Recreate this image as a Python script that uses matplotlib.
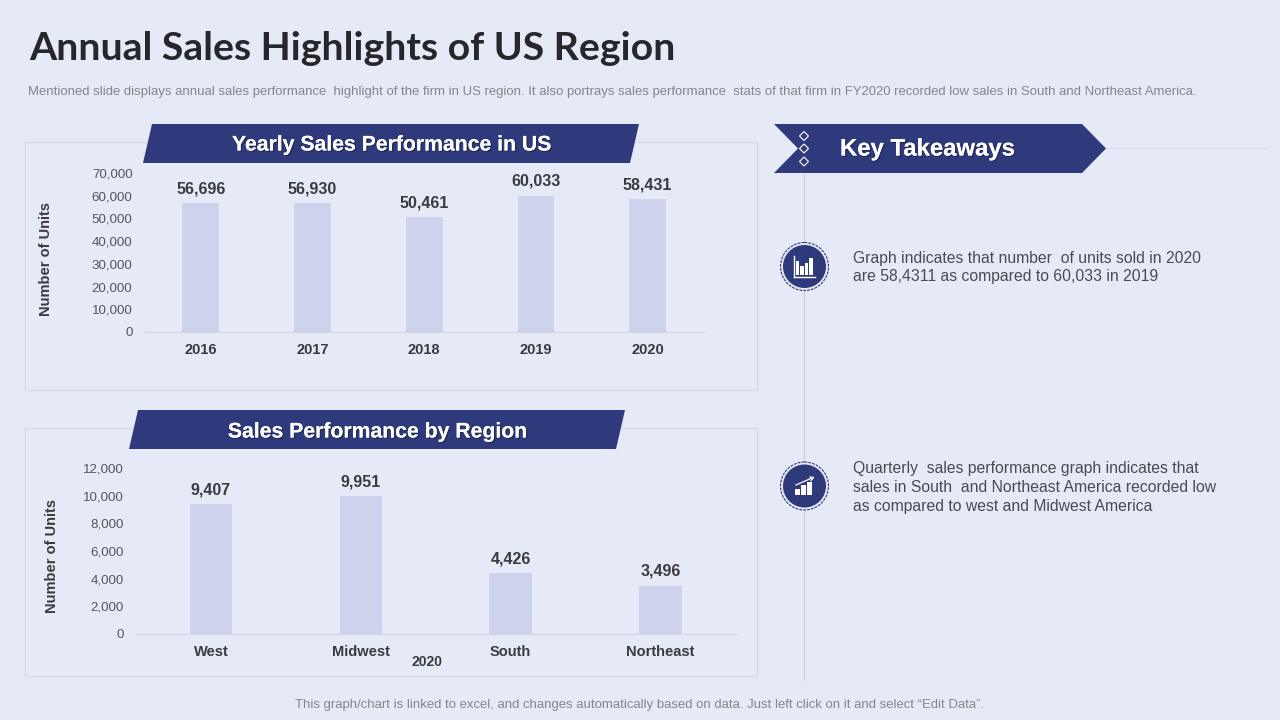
import matplotlib
matplotlib.use("Agg")
import matplotlib.pyplot as plt
from matplotlib.patches import Polygon, Rectangle, Circle
import matplotlib.patheffects as pe
from matplotlib.ticker import FuncFormatter

plt.rcParams['font.family'] = ['Liberation Sans', 'DejaVu Sans']

years = ['2016', '2017', '2018', '2019', '2020']
yearly_units = [56696, 56930, 50461, 60033, 58431]
yearly_ticks = [0, 10000, 20000, 30000, 40000, 50000, 60000, 70000]

regions = ['West', 'Midwest', 'South', 'Northeast']
region_units = [9407, 9951, 4426, 3496]
region_ticks = [0, 2000, 4000, 6000, 8000, 10000, 12000]

BG = '#E6EAF6'
BAR = '#CDD3EC'
NAVY = '#2E3A7C'
FRAME = '#D8DBE6'
DARK = '#3A3A3F'
GREY = '#85858C'

W, H = 1280, 720
fig = plt.figure(figsize=(W / 100, H / 100), dpi=100, facecolor=BG)

bg = fig.add_axes([0, 0, 1, 1], zorder=0)
bg.set_xlim(0, W)
bg.set_ylim(H, 0)
bg.axis('off')

fg = fig.add_axes([0, 0, 1, 1], zorder=5)
fg.set_xlim(0, W)
fg.set_ylim(H, 0)
fg.axis('off')
fg.patch.set_alpha(0)


def px(size):
    return size * 0.72


shadow = [pe.withSimplePatchShadow(offset=(1, -1), shadow_rgbFace='#1A1A30', alpha=0.45),
          pe.Normal()]

fg.text(29, 49, 'Annual Sales Highlights of US Region', fontsize=px(39.3), fontweight='bold',
        family=['Lato', 'DejaVu Sans'], color='#26262B', va='center', ha='left')
fg.text(28, 92.5,
        'Mentioned slide displays annual sales performance  highlight of the firm in US region. '
        'It also portrays sales performance  stats of that firm in FY2020 recorded low sales in '
        'South and Northeast America.',
        fontsize=px(13.16), color=GREY, va='center', ha='left')
fg.text(639.5, 705,
        'This graph/chart is linked to excel, and changes automatically based on data. '
        'Just left click on it and select \u201cEdit Data\u201d.',
        fontsize=px(13.18), color=GREY, va='center', ha='center')

for x, y, w, h in [(25, 142, 732, 248), (25, 428, 732, 248)]:
    bg.add_patch(Rectangle((x, y), w, h, fill=False, ec=FRAME, lw=1))

fg.add_patch(Polygon([(152, 124), (639, 124), (630, 163), (143, 163)], fc=NAVY, ec='none'))
fg.add_patch(Polygon([(138, 410), (625, 410), (616, 449), (129, 449)], fc=NAVY, ec='none'))
fg.text(391, 145, 'Yearly Sales Performance in US', fontsize=px(21.2), fontweight='bold',
        color='white', ha='center', va='center', path_effects=shadow)
fg.text(377, 432, 'Sales Performance by Region', fontsize=px(21.2), fontweight='bold',
        color='white', ha='center', va='center', path_effects=shadow)


def make_chart(left, right, top, bottom, ymax, labels, values, ticks, width, ylabel_x, ylabel_y,
               tick_pad, label_pad):
    ax = fig.add_axes([left / W, 1 - bottom / H, (right - left) / W, (bottom - top) / H], zorder=2)
    ax.patch.set_alpha(0)
    pos = list(range(len(labels)))
    ax.bar(pos, values, width=width, color=BAR)
    ax.set_xlim(-0.5, len(labels) - 0.5)
    ax.set_ylim(0, ymax)
    ax.set_xticks(pos, labels)
    ax.set_yticks(ticks)
    ax.yaxis.set_major_formatter(FuncFormatter(lambda v, _: f'{int(v):,}'))
    ax.tick_params(axis='y', length=0, pad=tick_pad, labelsize=px(13.4), labelcolor='#55555C')
    ax.tick_params(axis='x', length=0, pad=label_pad, labelsize=px(14.6))
    for t in ax.get_xticklabels():
        t.set_fontweight('bold')
        t.set_color(DARK)
    for s in ['top', 'left', 'right']:
        ax.spines[s].set_visible(False)
    ax.spines['bottom'].set_color('#D3D7E6')
    ax.spines['bottom'].set_linewidth(1)
    for p, v in zip(pos, values):
        ax.annotate(f'{v:,}', (p, v), xytext=(0, 4.8), textcoords='offset points', ha='center',
                    va='bottom', fontsize=px(16), fontweight='bold', color=DARK)
    fg.text(ylabel_x, ylabel_y, 'Number of Units', rotation=90, fontsize=px(14.6), fontweight='bold',
            color=DARK, ha='center', va='center')
    return ax


make_chart(145, 703.5, 173, 332, 70000, years, yearly_units, yearly_ticks, 0.33, 46.5, 259, 9, 8)
make_chart(136, 735.5, 468, 634, 12000, regions, region_units, region_ticks, 0.283, 52.5, 556, 9, 8)
fg.text(427, 662, '2020', fontsize=px(14), fontweight='bold', color=DARK, ha='center', va='center')

bg.plot([1100, 1267], [148, 148], color='#D8DBE8', lw=1)
bg.plot([804, 804], [170, 680], color='#CFD3E2', lw=1)
fg.add_patch(Polygon([(774, 124), (1082, 124), (1106, 148.5), (1082, 173), (774, 173), (798, 148.5)],
                     fc=NAVY, ec='none'))
for yy in (136, 148.5, 161.5):
    fg.add_patch(Polygon([(804, yy - 4.5), (808.5, yy), (804, yy + 4.5), (799.5, yy)],
                         fc='none', ec='white', lw=0.8))
fg.text(840, 149, 'Key Takeaways', fontsize=px(23.9), fontweight='bold', color='white',
        ha='left', va='center', path_effects=shadow)


def badge(cx, cy):
    fg.add_patch(Circle((cx, cy), 24, fc=BG, ec=NAVY, lw=0.8, ls=(0, (2.5, 1))))
    fg.add_patch(Circle((cx, cy), 21.5, fc=NAVY, ec='none'))


badge(804.5, 266.5)
for x0, h in [(795.5, 14), (800, 9), (804.5, 12), (809, 17)]:
    fg.add_patch(Rectangle((x0, 275 - h), 3.6, h, fc='white', ec='none'))
fg.plot([794, 815], [276.5, 276.5], color='white', lw=1)
fg.plot([794, 794], [256, 276.5], color='white', lw=1)

badge(804.5, 486)
for x0, h in [(795, 6), (801, 10), (807, 13)]:
    fg.add_patch(Rectangle((x0, 494.5 - h), 4.6, h, fc='white', ec='none'))
fg.plot([796, 813], [485, 477.5], color='white', lw=0.9)
fg.plot([810, 813.5, 811], [477, 477.5, 480.5], color='white', lw=0.9)

body = dict(fontsize=px(15.8), color='#4A4A52', ha='left', va='center')
fg.text(853, 258, 'Graph indicates that number  of units sold in 2020', **body)
fg.text(853, 277, 'are 58,4311 as compared to 60,033 in 2019', **body)
fg.text(853, 468, 'Quarterly  sales performance graph indicates that', **body)
fg.text(853, 487, 'sales in South  and Northeast America recorded low', **body)
fg.text(853, 506, 'as compared to west and Midwest America', **body)

fig.savefig('out.png', dpi=100, facecolor=BG)
